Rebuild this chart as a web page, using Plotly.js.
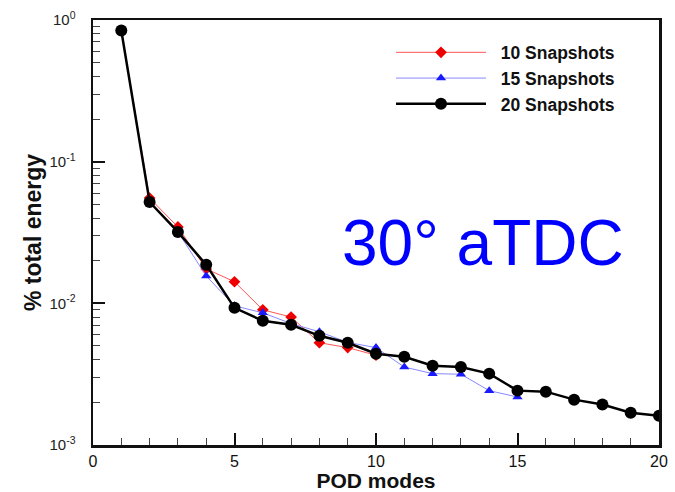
<!DOCTYPE html>
<html>
<head>
<meta charset="utf-8">
<script src="https://cdn.plot.ly/plotly-3.0.1.min.js"></script>
<style>html,body{margin:0;padding:0;background:#fff;}#chart{width:675px;height:492px;}</style>
</head>
<body>
<div id="chart"></div>
<script>
const modes10 = [1,2,3,4,5,6,7,8,9,10];
const energy10 = [0.84,0.0553,0.0346,0.0175,0.0142,0.0090,0.0080,0.00527,0.00487,0.0043];
const modes15 = [1,2,3,4,5,6,7,8,9,10,11,12,13,14,15];
const energy15 = [0.84,0.052,0.032,0.0156,0.0096,0.00857,0.0072,0.0063,0.0053,0.00487,0.00355,0.00319,0.00316,0.00242,0.00218];
const modes20 = [1,2,3,4,5,6,7,8,9,10,11,12,13,14,15,16,17,18,19,20];
const energy20 = [0.843,0.0519,0.0319,0.0187,0.00929,0.00753,0.00705,0.0059,0.00527,0.00441,0.0042,0.00363,0.00355,0.00319,0.00242,0.00238,0.00209,0.00193,0.00169,0.00161];
const seriesNames = ["10 Snapshots","15 Snapshots","20 Snapshots"];
const yTickVals = [0.001,0.01,0.1,1];
const yTickText = ["10<sup>-3</sup>","10<sup>-2</sup>","10<sup>-1</sup>","10<sup>0</sup>"];
const xTickVals = [0,5,10,15,20];
const annotationText = "30° aTDC";

const font = "Liberation Sans, Arial, Helvetica, sans-serif";
const pad = "\u00a0\u00a0";
const traces = [
  {x: modes10, y: energy10, name: pad + seriesNames[0], mode: "lines+markers",
   line: {color: "#ff5555", width: 1}, marker: {symbol: "diamond", size: 9, color: "#ee0000"}},
  {x: modes15, y: energy15, name: pad + seriesNames[1], mode: "lines+markers",
   line: {color: "#8888ff", width: 1}, marker: {symbol: "triangle-up", size: 9, color: "#1a1aff"}},
  {x: modes20, y: energy20, name: pad + seriesNames[2], mode: "lines+markers",
   line: {color: "#000000", width: 2.5}, marker: {symbol: "circle", size: 12, color: "#000000"}}
];
const layout = {
  width: 675, height: 492,
  margin: {l: 93, r: 16, t: 20, b: 47},
  paper_bgcolor: "#fff", plot_bgcolor: "#fff",
  font: {family: font, color: "#111"},
  showlegend: true,
  legend: {x: 0.5265, y: 0.966, xanchor: "left", yanchor: "top", bgcolor: "rgba(0,0,0,0)",
           font: {family: font, size: 17.5, color: "#111", weight: "bold"},
           itemwidth: 90, tracegroupgap: 0},
  xaxis: {range: [0, 20], tickvals: xTickVals, ticks: "inside", ticklen: 12, tickwidth: 2,
          tickcolor: "#111", showline: true, linewidth: 2.5, linecolor: "#111", mirror: true,
          showgrid: false, zeroline: false, tickfont: {size: 16, color: "#111"},
          minor: {dtick: 1, ticks: "inside", ticklen: 7, tickwidth: 1, tickcolor: "#444", showgrid: false},
          title: {text: "<b>POD modes</b>", font: {size: 21, color: "#111"}, standoff: 5}},
  yaxis: {type: "log", range: [-3, 0], tickvals: yTickVals, ticktext: yTickText,
          ticks: "inside", ticklen: 12, tickwidth: 2, tickcolor: "#111",
          showline: true, linewidth: 2.5, linecolor: "#111", mirror: true,
          showgrid: false, zeroline: false, tickfont: {size: 15, color: "#222"},
          ticklabelstandoff: 12,
          minor: {dtick: "D1", ticks: "inside", ticklen: 7, tickwidth: 1, tickcolor: "#444", showgrid: false},
          title: {text: "<b>% total energy</b>", font: {size: 23, color: "#111"}, standoff: 2}},
  annotations: [{xref: "paper", yref: "paper", x: 0.689, y: 0.476, xanchor: "center", yanchor: "middle",
                 text: annotationText, showarrow: false, font: {family: font, size: 64, color: "#0000ff"}}]
};
Plotly.newPlot("chart", traces, layout, {displayModeBar: false, staticPlot: true});
</script>
</body>
</html>
